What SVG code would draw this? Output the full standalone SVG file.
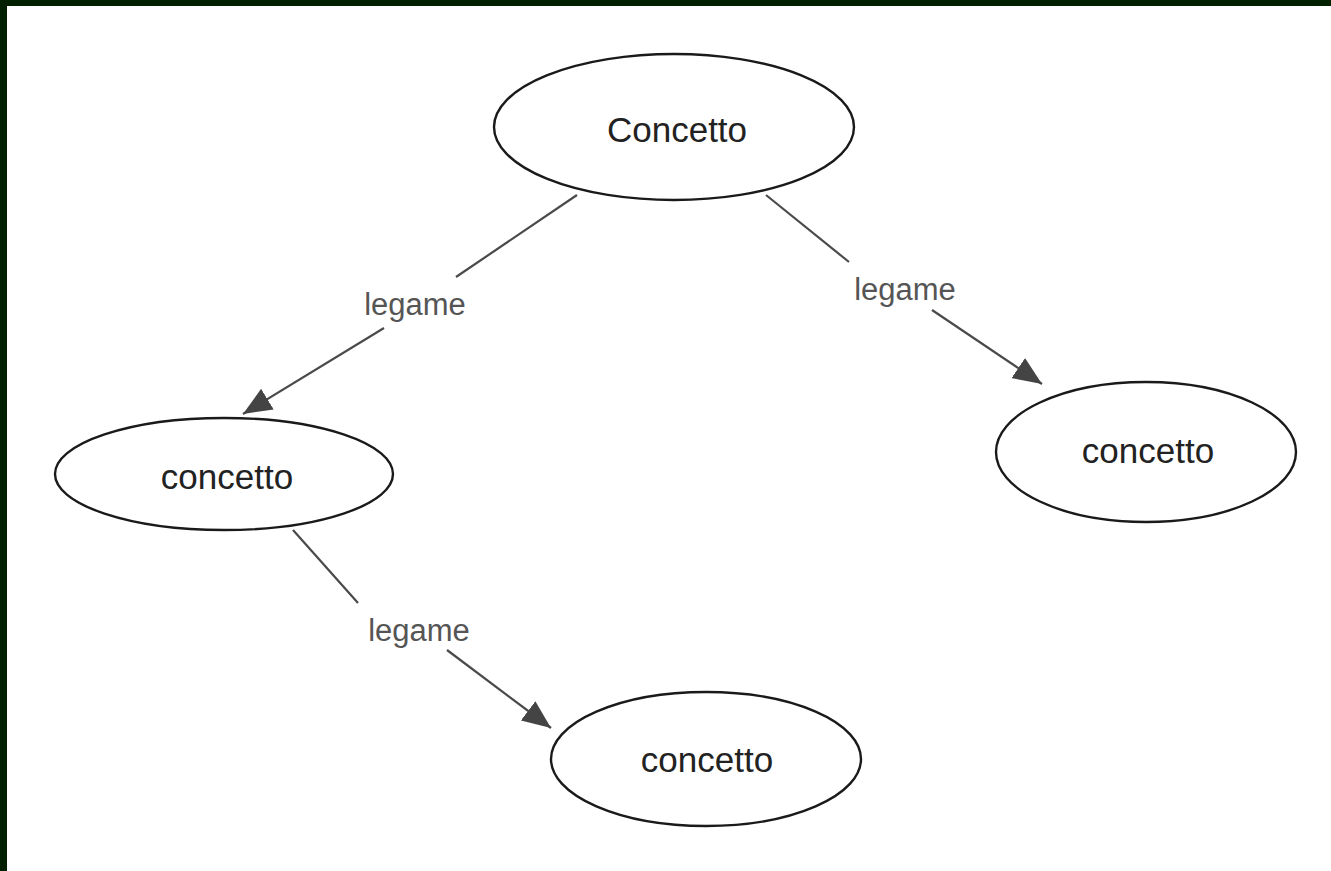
<svg xmlns="http://www.w3.org/2000/svg" width="1331" height="871" viewBox="0 0 1331 871">
<style>
.node ellipse{fill:#fff;stroke:#1a1a1a;stroke-width:2.4}
.node text{font-family:"Liberation Sans",Arial,sans-serif;font-size:35px;fill:#222;text-anchor:middle}
.edge line{stroke:#4a4a4a;stroke-width:2.2}
.lbl{font-family:"Liberation Sans",Arial,sans-serif;font-size:31px;fill:#555;text-anchor:middle}
</style>
<defs>
<marker id="arr" viewBox="0 0 13 11" refX="13" refY="5.5" markerWidth="13" markerHeight="11" orient="auto" markerUnits="strokeWidth">
<path d="M0,0 L13,5.5 L0,11 Z" fill="#444"/>
</marker>
</defs>
<rect x="0" y="0" width="1331" height="871" fill="#fff"/>
<rect x="0" y="0" width="1331" height="6" fill="#002000"/>
<rect x="0" y="0" width="7" height="871" fill="#002000"/>
<g id="connectors" class="edge">
<line x1="577" y1="195" x2="456" y2="277"/>
<line x1="384" y1="328" x2="243" y2="414" marker-end="url(#arr)"/>
<line x1="766" y1="195" x2="849" y2="262"/>
<line x1="932" y1="310" x2="1042" y2="384" marker-end="url(#arr)"/>
<line x1="293" y1="530" x2="358" y2="603"/>
<line x1="447" y1="650" x2="551" y2="728" marker-end="url(#arr)"/>
<text class="lbl" x="415" y="315">legame</text>
<text class="lbl" x="905" y="300">legame</text>
<text class="lbl" x="419" y="641">legame</text>
</g>
<g id="n0" class="node"><ellipse cx="674" cy="127" rx="180" ry="73"/><text x="677" y="142">Concetto</text></g>
<g id="n1" class="node"><ellipse cx="224" cy="474" rx="169" ry="56"/><text x="227" y="489">concetto</text></g>
<g id="n2" class="node"><ellipse cx="1146" cy="452" rx="150" ry="70"/><text x="1148" y="463">concetto</text></g>
<g id="n3" class="node"><ellipse cx="706" cy="759" rx="155" ry="67"/><text x="707" y="772">concetto</text></g>
</svg>
